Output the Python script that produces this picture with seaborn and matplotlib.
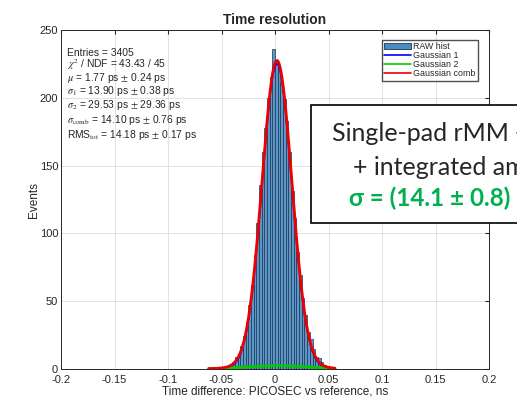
import numpy as np
import pandas as pd
import seaborn as sns
import matplotlib.pyplot as plt
from matplotlib.patches import Rectangle
from matplotlib.lines import Line2D
from matplotlib.patches import Patch

# histogram: bin edges start and width (ns), counts per bin
bin_start = -0.05
bin_width = 0.0025
counts = [1, 1, 2, 3, 5, 9, 11, 17, 24, 35, 47, 62, 84, 108, 136, 160, 178, 200, 215, 236,
          228, 224, 211, 199, 183, 160, 131, 111, 86, 69, 52, 40, 27, 22, 15, 9, 8, 5, 3, 2, 1, 1]

# fit parameters (ns) and amplitudes (events)
mu = 0.00177
sigma1 = 0.0139
sigma2 = 0.02953
amp1 = 225.0
amp2 = 2.5
fit_range = (-0.062, 0.056)

stats_lines = [
    'Entries = 3405',
    r'$\chi^2$ / NDF = 43.43 / 45',
    r'$\mu$ = 1.77 ps $\pm$ 0.24 ps',
    r'$\sigma_1$ = 13.90 ps $\pm$ 0.38 ps',
    r'$\sigma_2$ = 29.53 ps $\pm$ 29.36 ps',
    r'$\sigma_{\rm comb}$ = 14.10 ps $\pm$ 0.76 ps',
    r'RMS$_{\rm tot}$ = 14.18 ps $\pm$ 0.17 ps',
]

xticks = [-0.2, -0.15, -0.1, -0.05, 0, 0.05, 0.1, 0.15, 0.2]
xticklabels = ['-0.2', '-0.15', '-0.1', '-0.05', '0', '0.05', '0.1', '0.15', '0.2']
yticks = [0, 50, 100, 150, 200, 250]

sns.set_style('white')
plt.rcParams['font.family'] = ['Liberation Sans', 'DejaVu Sans']
plt.rcParams['mathtext.fontset'] = 'stix'

edges = bin_start + bin_width * np.arange(len(counts) + 1)
centers = edges[:-1] + bin_width / 2
hist_df = pd.DataFrame({'t': centers, 'n': counts})

fig = plt.figure(figsize=(5.17, 4.0), dpi=100)
ax = fig.add_axes([0.118, 0.0775, 0.828, 0.8475])

sns.histplot(data=hist_df, x='t', weights='n', bins=list(edges), ax=ax,
             color='#4a8cc4', alpha=0.9, edgecolor='#1d3550', linewidth=0.5)

xf = np.linspace(fit_range[0], fit_range[1], 400)
g1 = amp1 * np.exp(-(xf - mu) ** 2 / (2 * sigma1 ** 2))
g2 = amp2 * np.exp(-(xf - mu) ** 2 / (2 * sigma2 ** 2))
sns.lineplot(x=xf, y=g1, ax=ax, color='#0000ff', linewidth=1.2)
sns.lineplot(x=xf, y=g2, ax=ax, color='#00cc00', linewidth=2)
sns.lineplot(x=xf, y=g1 + g2, ax=ax, color='#ee0000', linewidth=2)

ax.set_xlim(-0.2, 0.2)
ax.set_ylim(0, 250)
ax.set_xticks(xticks)
ax.set_xticklabels(xticklabels)
ax.set_yticks(yticks)
ax.tick_params(direction='in', labelsize=8, length=3, top=True, right=True,
               labeltop=False, labelright=False, colors='#262626', pad=2)
ax.tick_params(axis='x', pad=4)
ax.grid(True, color='#dcdcdc', linewidth=0.6)
ax.set_axisbelow(True)
for s in ax.spines.values():
    s.set_color('#262626')
    s.set_linewidth(0.7)
ax.set_xlabel('Time difference: PICOSEC vs reference, ns', fontsize=8.5, labelpad=1)
ax.set_ylabel('Events', fontsize=8.5, labelpad=0)
ax.set_title('Time resolution', fontsize=10, fontweight='bold', pad=4)

ys = [56, 68, 81, 94, 108, 123, 138]
for txt, yp in zip(stats_lines, ys):
    fig.text(67 / 517, 1 - yp / 400, txt, fontsize=7.4, va='baseline', ha='left')

handles = [Patch(facecolor='#4a8cc4', edgecolor='#1d3550', linewidth=0.6),
           Line2D([0], [0], color='#0000ff', lw=1.2),
           Line2D([0], [0], color='#00cc00', lw=1.2),
           Line2D([0], [0], color='#ee0000', lw=1.2)]
ax.legend(handles, ['RAW hist', 'Gaussian 1', 'Gaussian 2', 'Gaussian comb'],
          loc='upper right', bbox_to_anchor=(0.974, 0.97), fontsize=6.4, frameon=True,
          fancybox=False, edgecolor='#262626', handlelength=3.0, handleheight=0.6,
          borderpad=0.25, labelspacing=0.0, handletextpad=0.3, borderaxespad=0)

# overlay box (slide annotation)
fig.patches.append(Rectangle((311 / 517, 1 - 223 / 400), 0.6, 118 / 400,
                             transform=fig.transFigure, facecolor='white',
                             edgecolor='black', linewidth=1.2, zorder=5))
fig.text(332 / 517, 1 - 141 / 400, 'Single-pad rMM +', fontsize=18, family=['Lato', 'DejaVu Sans'],
         zorder=6)
fig.text(353 / 517, 1 - 175 / 400, '+ integrated am', fontsize=18, family=['Lato', 'DejaVu Sans'],
         zorder=6)
fig.text(349 / 517, 1 - 206 / 400, 'σ = (14.1 ± 0.8)', fontsize=17.5, family=['Lato', 'DejaVu Sans'],
         color='#00b050', fontweight='bold', zorder=6)

plt.savefig('out.png', dpi=100)
plt.close()
